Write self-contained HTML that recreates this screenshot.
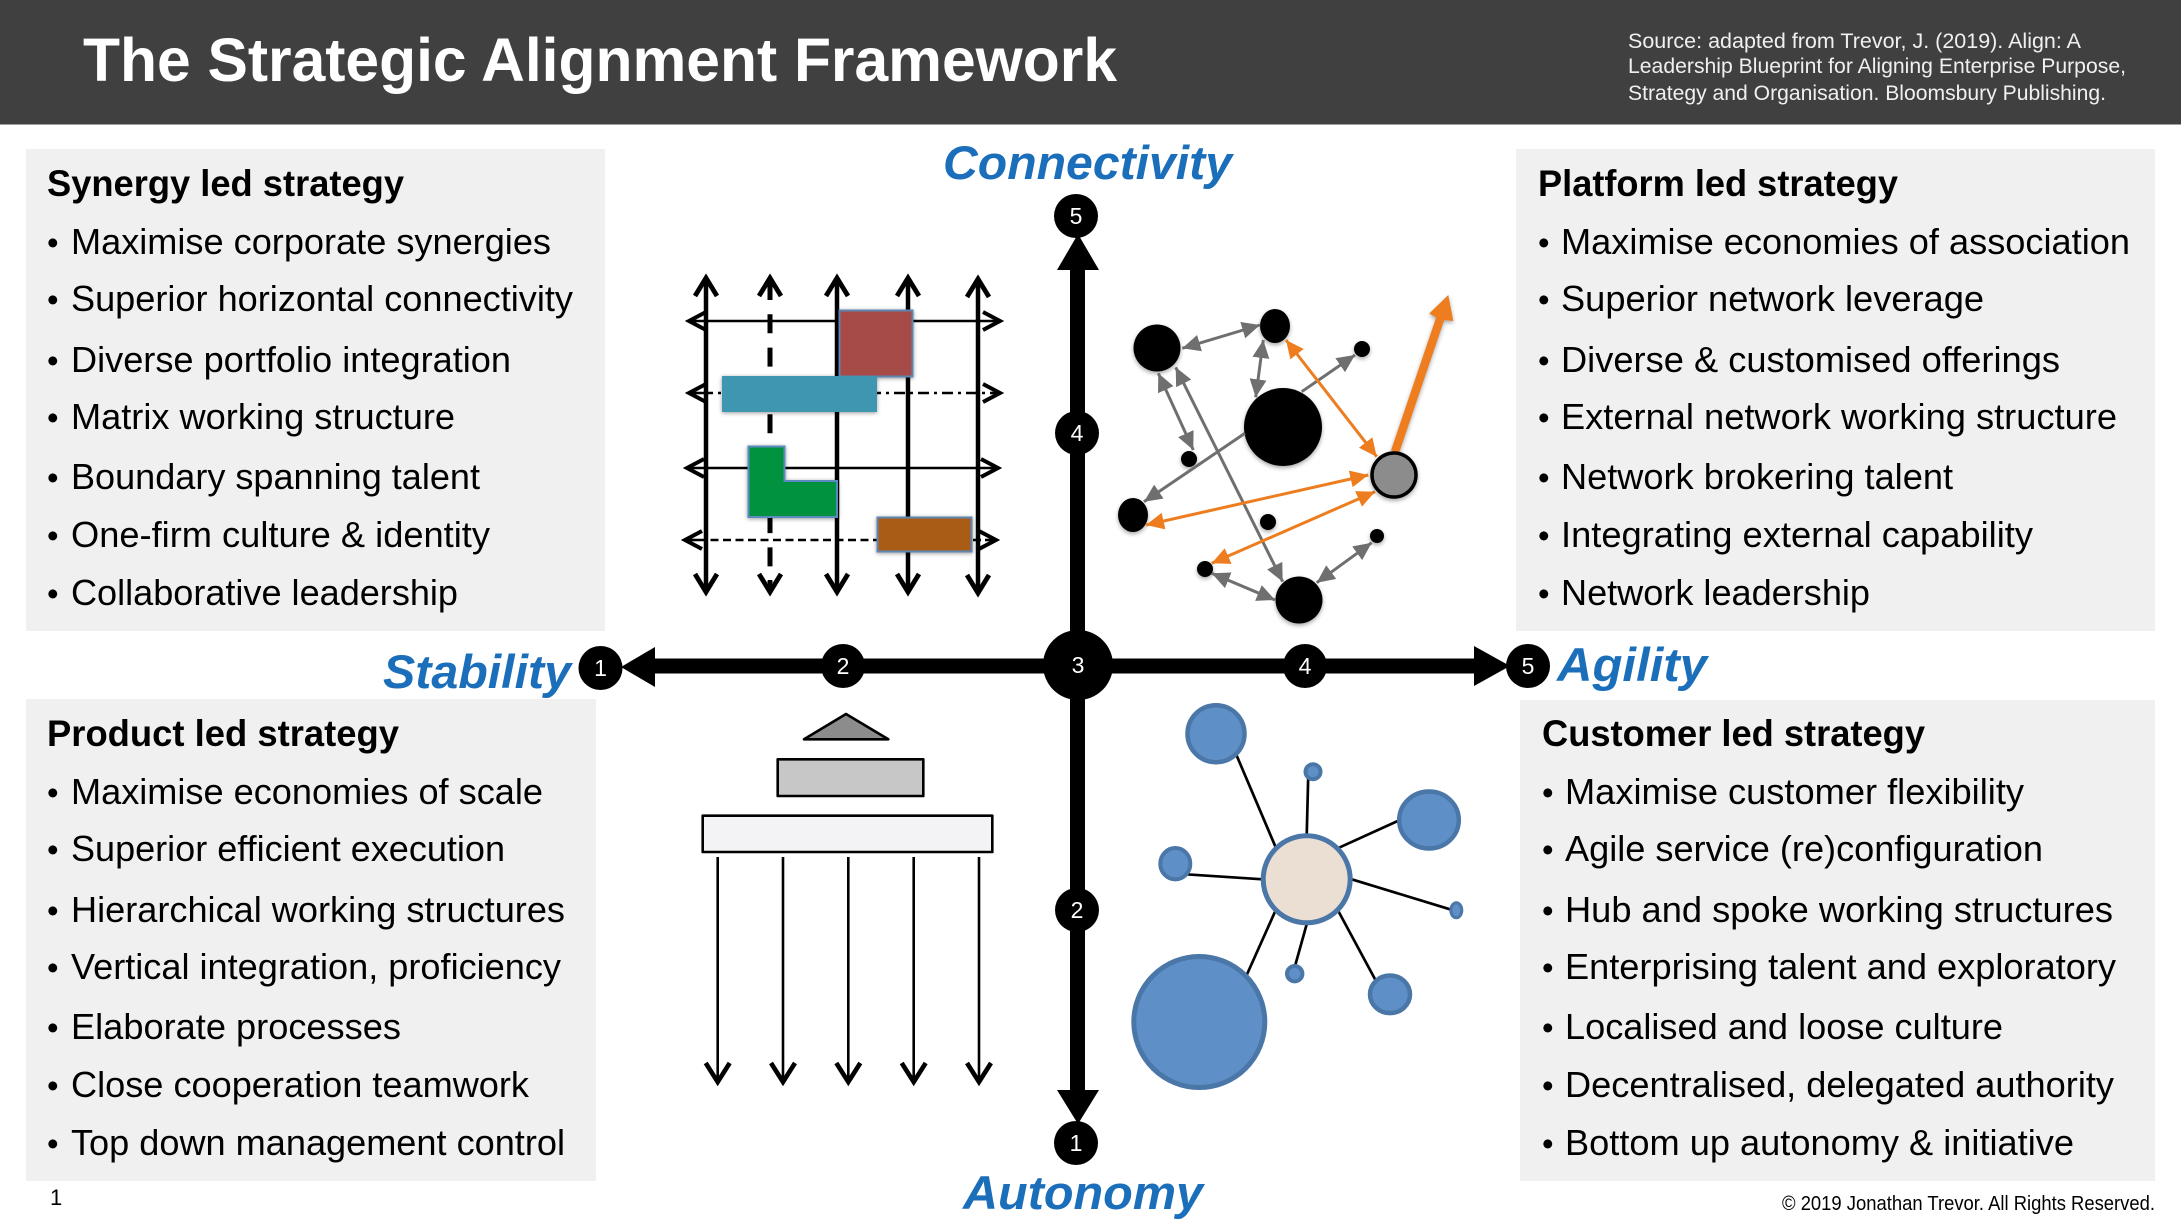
<!DOCTYPE html>
<html lang="en">
<head>
<meta charset="utf-8">
<title>The Strategic Alignment Framework</title>
<style>
html,body{margin:0;padding:0;background:#fff;width:2181px;height:1227px;overflow:hidden}
svg{display:block;font-family:"Liberation Sans",Arial,sans-serif}
.t{font-size:36.5px;fill:#000}
.b{font-size:33px;fill:#000}
.h{font-size:37px;font-weight:bold;fill:#000}
.a{font-size:47px;font-weight:bold;font-style:italic;fill:#1b6eb9}
.n{font-size:23px;fill:#fff;text-anchor:middle}
.s{font-size:21.5px;fill:#f0f0f0}
.sh{filter:drop-shadow(0 2px 2px rgba(0,0,0,.35))}
</style>
</head>
<body>
<svg width="2181" height="1227" viewBox="0 0 2181 1227" xmlns="http://www.w3.org/2000/svg">
<defs>
<marker id="v" viewBox="0 0 26 28" refX="21" refY="14" markerWidth="26" markerHeight="28" markerUnits="userSpaceOnUse" orient="auto-start-reverse"><path d="M3 3L21 14L3 25" fill="none" stroke="#000" stroke-width="4.8"/></marker>
<marker id="hh" viewBox="0 0 24 24" refX="20" refY="12" markerWidth="24" markerHeight="24" markerUnits="userSpaceOnUse" orient="auto-start-reverse"><path d="M3 3L20 12L3 21" fill="none" stroke="#000" stroke-width="4"/></marker>
<marker id="d" viewBox="0 0 28 28" refX="22" refY="14" markerWidth="28" markerHeight="28" markerUnits="userSpaceOnUse" orient="auto-start-reverse"><path d="M3 2L22 14L3 26" fill="none" stroke="#000" stroke-width="4.6"/></marker>
<marker id="g" viewBox="0 0 18 17" refX="18" refY="8.5" markerWidth="18" markerHeight="17" markerUnits="userSpaceOnUse" orient="auto-start-reverse"><path d="M0 0L18 8.5L0 17z" fill="#6f6f6f"/></marker>
<marker id="o" viewBox="0 0 18 17" refX="18" refY="8.5" markerWidth="18" markerHeight="17" markerUnits="userSpaceOnUse" orient="auto-start-reverse"><path d="M0 0L18 8.5L0 17z" fill="#ed7d1f"/></marker>
</defs>

<!-- Header -->
<rect x="0" y="0" width="2181" height="124.5" fill="#404040"/>
<text x="83" y="81" font-size="61" font-weight="bold" fill="#fff" textLength="1034" lengthAdjust="spacingAndGlyphs">The Strategic Alignment Framework</text>
<text class="s" x="1628" y="48" textLength="453" lengthAdjust="spacingAndGlyphs">Source: adapted from Trevor, J. (2019). Align: A</text>
<text class="s" x="1628" y="73" textLength="498" lengthAdjust="spacingAndGlyphs">Leadership Blueprint for Aligning Enterprise Purpose,</text>
<text class="s" x="1628" y="100" textLength="478" lengthAdjust="spacingAndGlyphs">Strategy and Organisation. Bloomsbury Publishing.</text>

<!-- Panels -->
<rect x="26" y="149" width="579" height="482" fill="#f1f0f1"/>
<rect x="1516" y="149" width="639" height="482" fill="#f1f0f1"/>
<rect x="26" y="699" width="570" height="482" fill="#f1f0f1"/>
<rect x="1520" y="700" width="635" height="481" fill="#f1f0f1"/>

<!-- Top left -->
<text class="h" x="47" y="196" textLength="357" lengthAdjust="spacingAndGlyphs">Synergy led strategy</text>
<text class="b" x="47" y="254">•</text><text class="t" x="71" y="254" textLength="480" lengthAdjust="spacingAndGlyphs">Maximise corporate synergies</text>
<text class="b" x="47" y="311">•</text><text class="t" x="71" y="311" textLength="502" lengthAdjust="spacingAndGlyphs">Superior horizontal connectivity</text>
<text class="b" x="47" y="372">•</text><text class="t" x="71" y="372" textLength="440" lengthAdjust="spacingAndGlyphs">Diverse portfolio integration</text>
<text class="b" x="47" y="429">•</text><text class="t" x="71" y="429" textLength="384" lengthAdjust="spacingAndGlyphs">Matrix working structure</text>
<text class="b" x="47" y="489">•</text><text class="t" x="71" y="489" textLength="409" lengthAdjust="spacingAndGlyphs">Boundary spanning talent</text>
<text class="b" x="47" y="547">•</text><text class="t" x="71" y="547" textLength="419" lengthAdjust="spacingAndGlyphs">One-firm culture &amp; identity</text>
<text class="b" x="47" y="605">•</text><text class="t" x="71" y="605" textLength="387" lengthAdjust="spacingAndGlyphs">Collaborative leadership</text>

<!-- Top right -->
<text class="h" x="1538" y="196" textLength="360" lengthAdjust="spacingAndGlyphs">Platform led strategy</text>
<text class="b" x="1538" y="254">•</text><text class="t" x="1561" y="254" textLength="569" lengthAdjust="spacingAndGlyphs">Maximise economies of association</text>
<text class="b" x="1538" y="311">•</text><text class="t" x="1561" y="311" textLength="423" lengthAdjust="spacingAndGlyphs">Superior network leverage</text>
<text class="b" x="1538" y="372">•</text><text class="t" x="1561" y="372" textLength="499" lengthAdjust="spacingAndGlyphs">Diverse &amp; customised offerings</text>
<text class="b" x="1538" y="429">•</text><text class="t" x="1561" y="429" textLength="556" lengthAdjust="spacingAndGlyphs">External network working structure</text>
<text class="b" x="1538" y="489">•</text><text class="t" x="1561" y="489" textLength="392" lengthAdjust="spacingAndGlyphs">Network brokering talent</text>
<text class="b" x="1538" y="547">•</text><text class="t" x="1561" y="547" textLength="472" lengthAdjust="spacingAndGlyphs">Integrating external capability</text>
<text class="b" x="1538" y="605">•</text><text class="t" x="1561" y="605" textLength="309" lengthAdjust="spacingAndGlyphs">Network leadership</text>

<!-- Bottom left -->
<text class="h" x="47" y="746" textLength="352" lengthAdjust="spacingAndGlyphs">Product led strategy</text>
<text class="b" x="47" y="804">•</text><text class="t" x="71" y="804" textLength="472" lengthAdjust="spacingAndGlyphs">Maximise economies of scale</text>
<text class="b" x="47" y="861">•</text><text class="t" x="71" y="861" textLength="434" lengthAdjust="spacingAndGlyphs">Superior efficient execution</text>
<text class="b" x="47" y="922">•</text><text class="t" x="71" y="922" textLength="494" lengthAdjust="spacingAndGlyphs">Hierarchical working structures</text>
<text class="b" x="47" y="979">•</text><text class="t" x="71" y="979" textLength="490" lengthAdjust="spacingAndGlyphs">Vertical integration, proficiency</text>
<text class="b" x="47" y="1039">•</text><text class="t" x="71" y="1039" textLength="330" lengthAdjust="spacingAndGlyphs">Elaborate processes</text>
<text class="b" x="47" y="1097">•</text><text class="t" x="71" y="1097" textLength="458" lengthAdjust="spacingAndGlyphs">Close cooperation teamwork</text>
<text class="b" x="47" y="1155">•</text><text class="t" x="71" y="1155" textLength="494" lengthAdjust="spacingAndGlyphs">Top down management control</text>

<!-- Bottom right -->
<text class="h" x="1542" y="746" textLength="383" lengthAdjust="spacingAndGlyphs">Customer led strategy</text>
<text class="b" x="1542" y="804">•</text><text class="t" x="1565" y="804" textLength="459" lengthAdjust="spacingAndGlyphs">Maximise customer flexibility</text>
<text class="b" x="1542" y="861">•</text><text class="t" x="1565" y="861" textLength="478" lengthAdjust="spacingAndGlyphs">Agile service (re)configuration</text>
<text class="b" x="1542" y="922">•</text><text class="t" x="1565" y="922" textLength="548" lengthAdjust="spacingAndGlyphs">Hub and spoke working structures</text>
<text class="b" x="1542" y="979">•</text><text class="t" x="1565" y="979" textLength="551" lengthAdjust="spacingAndGlyphs">Enterprising talent and exploratory</text>
<text class="b" x="1542" y="1039">•</text><text class="t" x="1565" y="1039" textLength="438" lengthAdjust="spacingAndGlyphs">Localised and loose culture</text>
<text class="b" x="1542" y="1097">•</text><text class="t" x="1565" y="1097" textLength="549" lengthAdjust="spacingAndGlyphs">Decentralised, delegated authority</text>
<text class="b" x="1542" y="1155">•</text><text class="t" x="1565" y="1155" textLength="509" lengthAdjust="spacingAndGlyphs">Bottom up autonomy &amp; initiative</text>

<!-- Axis labels -->
<text class="a" x="943" y="179" textLength="289" lengthAdjust="spacingAndGlyphs">Connectivity</text>
<text class="a" x="383" y="688" textLength="188" lengthAdjust="spacingAndGlyphs">Stability</text>
<text class="a" x="1557" y="681" textLength="150" lengthAdjust="spacingAndGlyphs">Agility</text>
<text class="a" x="963" y="1209" textLength="240" lengthAdjust="spacingAndGlyphs">Autonomy</text>

<!-- Axes -->
<rect x="1070" y="260" width="15" height="835" fill="#000"/>
<rect x="640" y="658.5" width="840" height="15" fill="#000"/>
<path d="M1078 234L1099 270H1057z" fill="#000"/>
<path d="M1057 1090H1099L1078 1124z" fill="#000"/>
<path d="M621 667L655 647V687z" fill="#000"/>
<path d="M1474 646L1510 666L1474 686z" fill="#000"/>
<circle cx="1076" cy="216" r="22" fill="#000"/>
<circle cx="1077" cy="433" r="22" fill="#000"/>
<circle cx="1077" cy="910" r="22" fill="#000"/>
<circle cx="1076" cy="1143" r="22" fill="#000"/>
<circle cx="600.5" cy="668" r="22" fill="#000"/>
<circle cx="843" cy="666" r="22" fill="#000"/>
<circle cx="1078" cy="665" r="35" fill="#000"/>
<circle cx="1305" cy="666" r="22" fill="#000"/>
<circle cx="1528" cy="666" r="22" fill="#000"/>
<text class="n" x="1076" y="224">5</text>
<text class="n" x="1077" y="441">4</text>
<text class="n" x="1077" y="918">2</text>
<text class="n" x="1076" y="1151">1</text>
<text class="n" x="600.5" y="676">1</text>
<text class="n" x="843" y="674">2</text>
<text class="n" x="1078" y="673">3</text>
<text class="n" x="1305" y="674">4</text>
<text class="n" x="1528" y="674">5</text>

<!-- Matrix (Synergy) -->
<g stroke="#000" fill="none">
  <g stroke-width="4.5">
    <line x1="706" y1="278" x2="706" y2="592" marker-start="url(#v)" marker-end="url(#v)"/>
    <line x1="837" y1="278" x2="837" y2="592" marker-start="url(#v)" marker-end="url(#v)"/>
    <line x1="908" y1="278" x2="908" y2="592" marker-start="url(#v)" marker-end="url(#v)"/>
    <line x1="978" y1="279" x2="978" y2="593" marker-start="url(#v)" marker-end="url(#v)"/>
    <line x1="770" y1="281" x2="770" y2="583" stroke-width="5" stroke-dasharray="19 14.3"/>
    <line x1="770" y1="278" x2="770" y2="290" marker-start="url(#v)"/>
    <line x1="770" y1="592" x2="770" y2="580" marker-start="url(#v)"/>
  </g>
  <g stroke-width="2.6">
    <line x1="689" y1="321" x2="1000" y2="321" marker-start="url(#hh)" marker-end="url(#hh)"/>
    <line x1="702" y1="393" x2="990" y2="393" stroke-dasharray="11 5 3 5"/>
    <line x1="689" y1="393" x2="702" y2="393" marker-start="url(#hh)"/>
    <line x1="1000" y1="393" x2="990" y2="393" marker-start="url(#hh)"/>
    <line x1="687" y1="468" x2="998" y2="468" marker-start="url(#hh)" marker-end="url(#hh)"/>
    <line x1="698" y1="540" x2="985" y2="540" stroke-dasharray="8 4.5"/>
    <line x1="685" y1="540" x2="698" y2="540" marker-start="url(#hh)"/>
    <line x1="996" y1="540" x2="985" y2="540" marker-start="url(#hh)"/>
  </g>
</g>
<g style="filter:drop-shadow(0 1px 2px rgba(0,0,0,.4))">
  <rect x="839.5" y="310.5" width="73" height="66" fill="#a64b47" stroke="#5f85b3" stroke-width="2"/>
  <rect x="722" y="376" width="155" height="36" fill="#3e96b0"/>
  <path d="M748.5 446.5H784.5V481H837V517H748.5z" fill="#00923f" stroke="#5b8bbf" stroke-width="2"/>
  <rect x="877.5" y="517.5" width="94" height="34" fill="#a95c16" stroke="#5f85b3" stroke-width="2"/>
</g>

<!-- Network (Platform) -->
<g class="sh" fill="#000">
  <circle cx="1157" cy="348" r="23.5"/>
  <ellipse cx="1275" cy="326" rx="15" ry="17"/>
  <circle cx="1362" cy="349" r="8"/>
  <circle cx="1283" cy="427" r="39"/>
  <circle cx="1189" cy="459" r="8"/>
  <ellipse cx="1133" cy="515" rx="15" ry="17"/>
  <circle cx="1268" cy="522" r="8"/>
  <circle cx="1205" cy="569" r="8"/>
  <circle cx="1377" cy="536" r="7"/>
  <circle cx="1299" cy="600" r="23.5"/>
</g>
<g stroke="#6f6f6f" stroke-width="3" fill="none">
  <line x1="1182.3" y1="348.3" x2="1260" y2="325" marker-start="url(#g)" marker-end="url(#g)"/>
  <line x1="1263.3" y1="340" x2="1255.7" y2="397.3" marker-start="url(#g)" marker-end="url(#g)"/>
  <line x1="1158.3" y1="373.3" x2="1193.3" y2="450" marker-start="url(#g)" marker-end="url(#g)"/>
  <line x1="1175.7" y1="367.3" x2="1282.7" y2="581.7" marker-start="url(#g)" marker-end="url(#g)"/>
  <line x1="1301.7" y1="391.7" x2="1355" y2="355" marker-end="url(#g)"/>
  <line x1="1245" y1="433.3" x2="1144" y2="501.7" marker-end="url(#g)"/>
  <line x1="1211.7" y1="573.3" x2="1275" y2="600" marker-start="url(#g)" marker-end="url(#g)"/>
  <line x1="1316.7" y1="582.7" x2="1371.7" y2="542.7" marker-start="url(#g)" marker-end="url(#g)"/>
</g>
<g stroke="#ed7d1f" stroke-width="3" fill="none">
  <line x1="1286" y1="340" x2="1376.7" y2="456.7" marker-start="url(#o)" marker-end="url(#o)"/>
  <line x1="1146" y1="525" x2="1368.3" y2="475" marker-start="url(#o)" marker-end="url(#o)"/>
  <line x1="1211.7" y1="563.3" x2="1375" y2="491.7" marker-start="url(#o)" marker-end="url(#o)"/>
</g>
<g class="sh">
  <path d="M1391 450.4L1436.2 317.4L1429.3 313.5L1448.3 295L1453.3 321L1444.2 320L1399 453z" fill="#ed7d1f"/>
  <circle cx="1394" cy="475" r="22" fill="#8c8c8c" stroke="#000" stroke-width="3.5"/>
</g>

<!-- Hierarchy (Product) -->
<g stroke="#000" stroke-width="2.6" stroke-linejoin="round">
  <path d="M804 739.3L846 714L888.3 739.3z" fill="#8c8c8c"/>
  <rect x="777.7" y="759.3" width="145.6" height="36.7" fill="#c8c7c7"/>
  <rect x="702.7" y="815.7" width="289.6" height="36.3" fill="#f3f3f5"/>
  <g fill="none">
    <line x1="717.7" y1="857" x2="717.7" y2="1082" marker-end="url(#d)"/>
    <line x1="783" y1="857" x2="783" y2="1082" marker-end="url(#d)"/>
    <line x1="848.3" y1="857" x2="848.3" y2="1082" marker-end="url(#d)"/>
    <line x1="913.7" y1="857" x2="913.7" y2="1082" marker-end="url(#d)"/>
    <line x1="979" y1="857" x2="979" y2="1082" marker-end="url(#d)"/>
  </g>
</g>

<!-- Hub and spoke (Customer) -->
<g stroke="#000" stroke-width="2.7">
  <line x1="1236" y1="754" x2="1275.7" y2="847.3"/>
  <line x1="1308.3" y1="773.3" x2="1306.7" y2="835.7"/>
  <line x1="1398.3" y1="820.7" x2="1339" y2="847.7"/>
  <line x1="1186" y1="874.3" x2="1262.7" y2="879.3"/>
  <line x1="1450" y1="909.3" x2="1351.7" y2="879.3"/>
  <line x1="1376" y1="981" x2="1338.3" y2="911"/>
  <line x1="1295.3" y1="965" x2="1306.7" y2="924.3"/>
  <line x1="1246.7" y1="975" x2="1275" y2="911.7"/>
</g>
<g fill="#5e8fc6" stroke="#4a76a8">
  <circle cx="1216" cy="733.7" r="28.5" stroke-width="4.5"/>
  <circle cx="1313" cy="771.7" r="7.5" stroke-width="4"/>
  <ellipse cx="1429" cy="820" rx="29.8" ry="28.5" stroke-width="4.5"/>
  <ellipse cx="1175.3" cy="863.7" rx="15" ry="15.7" stroke-width="4"/>
  <ellipse cx="1456.3" cy="910.3" rx="5.5" ry="7.5" stroke-width="3"/>
  <ellipse cx="1390" cy="994.3" rx="20" ry="18.8" stroke-width="4.5"/>
  <circle cx="1294.7" cy="973.7" r="7.7" stroke-width="4"/>
  <circle cx="1199.3" cy="1022" r="65.5" stroke-width="5"/>
  <circle cx="1306.7" cy="879.3" r="43.5" fill="#ebdfd3" stroke-width="5"/>
</g>

<!-- Footer -->
<text x="50" y="1205" font-size="22" fill="#000">1</text>
<text x="1782" y="1210" font-size="20.5" fill="#000" textLength="373" lengthAdjust="spacingAndGlyphs">© 2019 Jonathan Trevor. All Rights Reserved.</text>
</svg>
</body>
</html>
